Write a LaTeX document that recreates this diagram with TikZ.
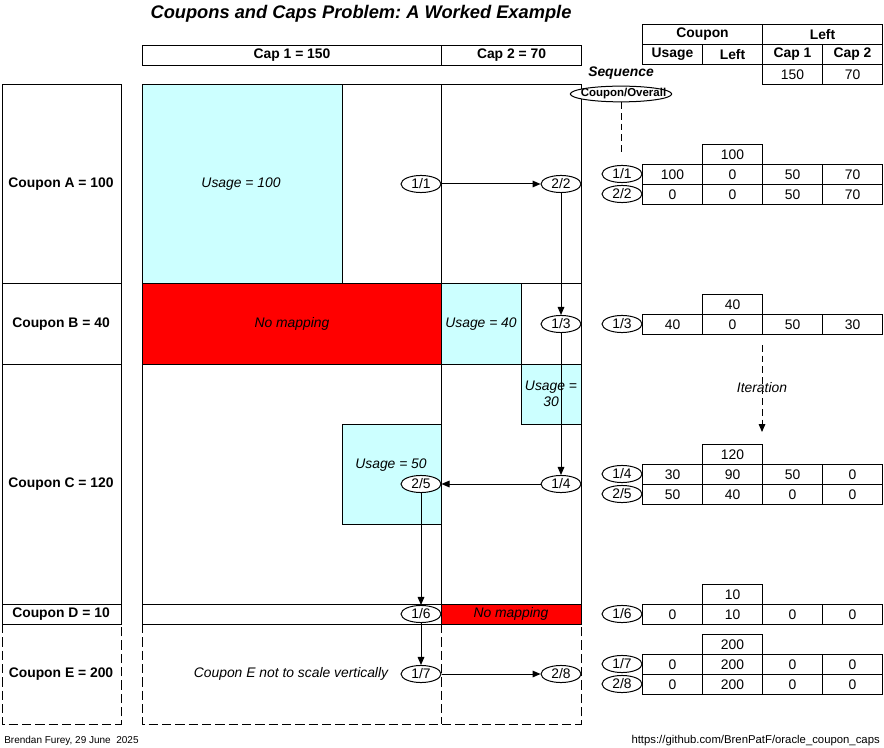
\documentclass[tikz,border=0pt]{standalone}
\usepackage{fontspec}
\setmainfont{Liberation Sans}
\usetikzlibrary{arrows.meta,shapes.geometric}
\frenchspacing
\definecolor{cyanfill}{HTML}{CCFFFF}
\newcommand{\fs}{\fontsize{10.4}{12}\selectfont}
\newcommand{\mytrow}[7]{%
  \node[cell] (#1a) at (642,#2) {#4};
  \node[cell] (#1b) at (702,#2) {#5};
  \node[cell] (#1c) at (762,#2) {#6};
  \node[cell] (#1d) at (822,#2) {#7};
  \node[seq] (#1s) at (622,#2+10) {#3};
}
\tikzset{
  ln/.style={line width=0.75pt},
  dsh/.style={ln, dash pattern=on 7pt off 3pt},
  usage/.style={ln, fill=cyanfill},
  nomap/.style={ln, fill=red},
  seq/.style={ellipse, draw, ln, fill=white, minimum width=30pt, minimum height=12.8pt, inner sep=0pt, font=\fs},
  arr/.style={ln, -{Triangle[length=6pt,width=5pt]}},
  txt/.style={font=\fs, inner sep=0pt},
  btxt/.style={font=\fs\bfseries, inner sep=0pt},
  itxt/.style={font=\fs\itshape, inner sep=0pt, align=center},
  cell/.style={draw, ln, minimum width=45pt, minimum height=15pt, inner sep=0pt, font=\fs, anchor=north west},
  hcell/.style={cell, font=\fs\bfseries}
}
\begin{document}
\begin{tikzpicture}[x=0.75pt,y=-0.75pt]
\useasboundingbox (0,0) rectangle (884,748);
% title
\node[font=\fontsize{13.7}{16}\selectfont\bfseries\itshape, inner sep=0pt] (title) at (361,14) {Coupons and Caps Problem: A Worked Example};
% cap header
\node[hcell, minimum width=224.25pt] (cap1) at (142,45) {Cap 1 = 150};
\node[hcell, minimum width=105pt] (cap2) at (441,45) {Cap 2 = 70};
% coloured areas
\draw[usage] (142,85) rectangle (342,284);
\draw[nomap] (142,284) rectangle (441,364);
\draw[usage] (441,284) rectangle (521,364);
\draw[usage] (521,364) rectangle (581,424);
\draw[usage] (342,424) rectangle (441,524);
\draw[nomap] (441,604) rectangle (581,624);
% main grid
\draw[ln] (142,85) rectangle (581,624);
\draw[ln] (441,85) -- (441,624);
\draw[ln] (142,284) -- (581,284);
\draw[ln] (142,364) -- (581,364);
\draw[ln] (142,604) -- (581,604);
\draw[dsh] (142,624) -- (142,724) -- (581,724) -- (581,624);
\draw[dsh] (441,624) -- (441,724);
% coupon column
\draw[ln] (2,85) rectangle (121,624);
\draw[ln] (2,284) -- (121,284);
\draw[ln] (2,364) -- (121,364);
\draw[ln] (2,604) -- (121,604);
\draw[dsh] (2,624) -- (2,724) -- (121,724) -- (121,624);
\node[btxt] (cA) at (61,184) {Coupon A = 100};
\node[btxt] (cB) at (61,324) {Coupon B = 40};
\node[btxt] (cC) at (61,484) {Coupon C = 120};
\node[btxt] (cD) at (61,614) {Coupon D = 10};
\node[btxt] (cE) at (61,674) {Coupon E = 200};
% area texts
\node[itxt] (uA) at (241,184) {Usage = 100};
\node[itxt] (nmB) at (292,324) {No mapping};
\node[itxt] (uB) at (481,324) {Usage = 40};
\node[itxt] (uC2) at (551,394) {Usage =\\30};
\node[itxt] (uC1) at (391,465) {Usage = 50};
\node[itxt] (nmD) at (511,614) {No mapping};
\node[itxt] (eNote) at (291,674) {Coupon E not to scale vertically};
% sequence ellipses in grid
\node[seq] (g11) at (421,184) {1/1};
\node[seq] (g22) at (561,184) {2/2};
\node[seq] (g13) at (561,324) {1/3};
\node[seq] (g14) at (561,484) {1/4};
\node[seq] (g25) at (421,484) {2/5};
\node[seq] (g16) at (421,614) {1/6};
\node[seq] (g17) at (421,674) {1/7};
\node[seq] (g28) at (561,674) {2/8};
\draw[arr] (g11) -- (g22);
\draw[arr] (g22) -- (g13);
\draw[arr] (g13) -- (g14);
\draw[arr] (g14) -- (g25);
\draw[arr] (g25) -- (g16);
\draw[arr] (g16) -- (g17);
\draw[arr] (g17) -- (g28);
% header table
\node[hcell, minimum width=90pt] (hCoupon) at (642,24) {Coupon};
\node[hcell, minimum width=90pt] (hLeft) at (762,24) {Left};
\node[hcell] (hUsage) at (642,44) {Usage};
\node[hcell] (hCLeft) at (702,44) {Left};
\node[hcell] (hCap1) at (762,44) {Cap 1};
\node[hcell] (hCap2) at (822,44) {Cap 2};
\node[cell] (i1) at (762,64) {150};
\node[cell] (i2) at (822,64) {70};
% sequence legend
\node[font=\fs\bfseries\itshape, inner sep=0pt] (seqt) at (621,73) {Sequence};
\node[ellipse, draw, ln, fill=white, minimum width=76pt, minimum height=11.8pt, inner sep=0pt] (co) at (621,94) {};
\node[font=\fontsize{8.6}{10}\selectfont\bfseries, inner sep=0pt] (cot) at (623.5,94) {Coupon/Overall};
\coordinate (coEnd) at (621,152);
\draw[ln, dash pattern=on 5pt off 3pt] (co) -- (coEnd);
% step tables
\node[cell] (tA) at (702,144) {100};
\mytrow{rA}{164}{1/1}{100}{0}{50}{70}
\mytrow{rAA}{184}{2/2}{0}{0}{50}{70}
\node[cell] (tB) at (702,294) {40};
\mytrow{rB}{314}{1/3}{40}{0}{50}{30}
\node[cell] (tC) at (702,444) {120};
\mytrow{rC}{464}{1/4}{30}{90}{50}{0}
\mytrow{rCC}{484}{2/5}{50}{40}{0}{0}
\node[cell] (tD) at (702,584) {10};
\mytrow{rD}{604}{1/6}{0}{10}{0}{0}
\node[cell] (tE) at (702,634) {200};
\mytrow{rE}{654}{1/7}{0}{200}{0}{0}
\mytrow{rEE}{674}{2/8}{0}{200}{0}{0}
% iteration
\coordinate (itS) at (762,345);
\coordinate (itE) at (762,432);
\draw[ln, dash pattern=on 5pt off 3pt, -{Triangle[length=6pt,width=5pt]}] (itS) -- (itE);
\node[itxt] (itT) at (762,388) {Iteration};
% footer
\node[font=\fontsize{7.5}{9}\selectfont, inner sep=0pt, anchor=west] (author) at (4,741) {Brendan Furey, 29 June \ 2025};
\node[font=\fontsize{8.5}{10}\selectfont, inner sep=0pt, anchor=east] (url) at (880,741) {https://github.com/BrenPatF/oracle\_coupon\_caps};
\end{tikzpicture}
\end{document}
